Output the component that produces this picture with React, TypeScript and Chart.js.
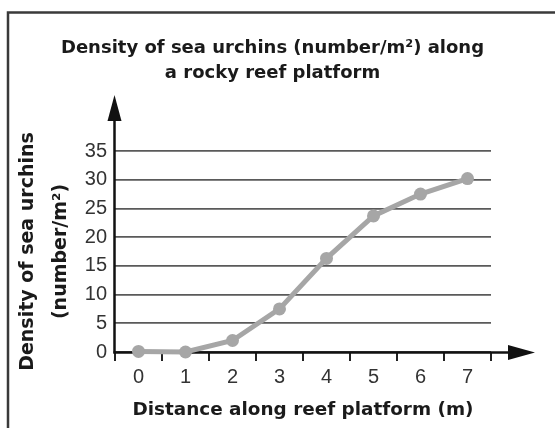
import React, { useEffect, useRef } from 'react';
import { Chart, registerables } from 'chart.js';

Chart.register(...registerables);

const categories = ['0', '1', '2', '3', '4', '5', '6', '7'];
const density = [0.1, 0, 2, 7.5, 16.3, 23.7, 27.5, 30.2];
const yMin = 0;
const yMax = 35;
const yStep = 5;
const titleLines = ['Density of sea urchins (number/m²) along', 'a rocky reef platform'];
const yTitleLines = ['Density of sea urchins', '(number/m²)'];
const xTitle = 'Distance along reef platform (m)';

const decorations = {
  id: 'decorations',
  beforeDraw(chart: any) {
    const ctx = chart.ctx;
    ctx.save();
    ctx.fillStyle = '#ffffff';
    ctx.fillRect(0, 0, chart.width, chart.height);
    ctx.strokeStyle = '#3a3a3a';
    ctx.lineWidth = 2.5;
    ctx.strokeRect(8, 12.5, chart.width + 20, chart.height + 20);
    ctx.restore();
  },
  beforeDatasetsDraw(chart: any) {
    const ctx = chart.ctx;
    const { left, right, top, bottom } = chart.chartArea;
    ctx.save();
    ctx.strokeStyle = '#111111';
    ctx.fillStyle = '#111111';
    ctx.lineWidth = 2.5;
    // y axis
    const ax = left - 0.5;
    ctx.beginPath();
    ctx.moveTo(ax, bottom + 1.5);
    ctx.lineTo(ax, top - 32);
    ctx.stroke();
    ctx.beginPath();
    ctx.moveTo(ax, top - 56);
    ctx.lineTo(ax - 7, top - 30);
    ctx.lineTo(ax + 7, top - 30);
    ctx.closePath();
    ctx.fill();
    // x axis
    const ay = bottom + 0.5;
    ctx.beginPath();
    ctx.moveTo(ax - 1, ay);
    ctx.lineTo(right + 20, ay);
    ctx.stroke();
    ctx.beginPath();
    ctx.moveTo(right + 44, ay);
    ctx.lineTo(right + 17, ay - 7.5);
    ctx.lineTo(right + 17, ay + 7.5);
    ctx.closePath();
    ctx.fill();
    ctx.restore();
  },
};

export default function App() {
  const ref = useRef<HTMLCanvasElement>(null);
  useEffect(() => {
    if (!ref.current) return;
    const chart = new Chart(ref.current, {
      type: 'line',
      data: {
        labels: categories,
        datasets: [
          {
            data: density,
            borderColor: '#a6a6a6',
            backgroundColor: '#a6a6a6',
            borderWidth: 5,
            pointRadius: 6.5,
            pointBorderWidth: 0,
            pointBackgroundColor: '#a6a6a6',
            tension: 0,
            clip: false as any,
          },
        ],
      },
      options: {
        responsive: false,
        animation: false,
        layout: { padding: { left: 0, right: 10, top: 0, bottom: 0 } },
        plugins: {
          legend: { display: false },
          tooltip: { enabled: false },
          title: {
            display: true,
            text: titleLines,
            color: '#1a1a1a',
            font: { family: 'DejaVu Sans', size: 18, weight: 'bold', lineHeight: 25 / 18 },
            padding: { top: 35.5, bottom: 65.5 },
          },
        },
        scales: {
          x: {
            type: 'category',
            offset: true,
            grid: {
              drawOnChartArea: false,
              drawTicks: true,
              tickLength: 9,
              color: '#222222',
              lineWidth: 2,
              offset: true,
            },
            border: { display: false },
            ticks: {
              color: '#333333',
              font: { family: 'Liberation Sans', size: 20 },
              padding: 4.5,
            },
            title: {
              display: true,
              text: xTitle,
              color: '#1a1a1a',
              font: { family: 'DejaVu Sans', size: 18.4, weight: 'bold', lineHeight: 1.2 },
              padding: { top: 0, bottom: 6.5 },
            },
            afterFit: (s: any) => {
              s.height = 76;
            },
          },
          y: {
            type: 'linear',
            min: yMin,
            max: yMax,
            ticks: {
              stepSize: yStep,
              color: '#333333',
              font: { family: 'Liberation Sans', size: 20 },
              padding: 8,
            },
            grid: {
              drawTicks: false,
              color: '#5a5a5a',
              lineWidth: 1.8,
            },
            border: { display: false },
            title: {
              display: true,
              text: yTitleLines,
              color: '#1a1a1a',
              font: { family: 'DejaVu Sans', size: 19, weight: 'bold', lineHeight: 33 / 19 },
              padding: { top: 12, bottom: 0 },
            },
            afterFit: (s: any) => {
              s.width = 115;
            },
          },
          y2: {
            type: 'linear',
            position: 'right',
            display: true,
            grid: { display: false, drawTicks: false },
            border: { display: false },
            ticks: { display: false },
            afterFit: (s: any) => {
              s.width = 54;
            },
          },
        },
      },
      plugins: [decorations],
    });
    return () => chart.destroy();
  }, []);
  return (
    <div style={{ position: 'absolute', left: 0, top: 0, width: 555, height: 428 }}>
      <canvas ref={ref} width={555} height={428} style={{ display: 'block' }} />
    </div>
  );
}
